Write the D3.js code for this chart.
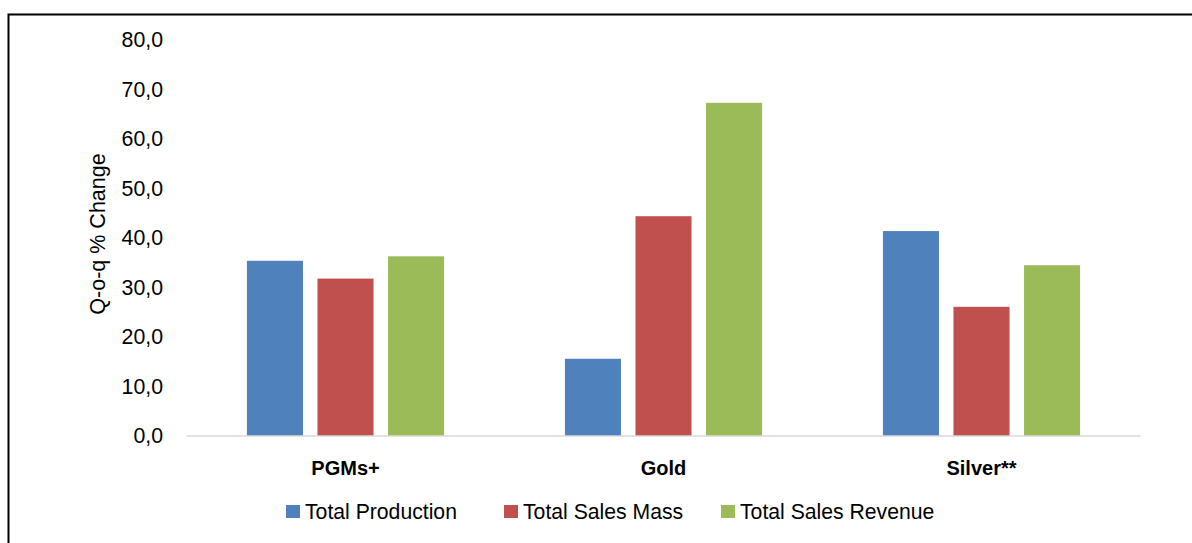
<!DOCTYPE html>
<html><head><meta charset="utf-8">
<script src="https://cdn.jsdelivr.net/npm/d3@7"></script>
<style>html,body{margin:0;padding:0;background:#fff;}svg{display:block;font-family:"Liberation Sans",Arial,sans-serif;}</style>
</head><body>
<svg id="c" width="1192" height="543"></svg>
<script>
const categories = ["PGMs+", "Gold", "Silver**"];
const seriesNames = ["Total Production", "Total Sales Mass", "Total Sales Revenue"];
const seriesColors = ["#4f81bd", "#c0504d", "#9bbb59"];
const totalProduction = [35.4, 15.6, 41.4];
const totalSalesMass = [31.8, 44.4, 26.1];
const totalSalesRevenue = [36.3, 67.3, 34.5];
const yTicks = [0, 10, 20, 30, 40, 50, 60, 70, 80];

(function () {
const series = [totalProduction, totalSalesMass, totalSalesRevenue];
const svg = d3.select("#c");

// outer frame
svg.append("path").attr("d", "M8.5,543 L8.5,14.5 L1192,14.5")
  .attr("fill", "none").attr("stroke", "#000").attr("stroke-width", 2);

const pLeft = 186.5, pRight = 1140.5, pTop = 40, pBottom = 436;
const y = d3.scaleLinear().domain([0, 80]).range([pBottom, pTop]);
const x0 = d3.scaleBand().domain(categories).range([pLeft, pRight]).paddingInner(0.38).paddingOuter(0.19);
const x1 = d3.scaleBand().domain(seriesNames).range([0, x0.bandwidth()]).paddingInner(0.2057).paddingOuter(0);

// bars
const g = svg.append("g");
categories.forEach((c, ci) => {
  seriesNames.forEach((s, si) => {
    const v = series[si][ci];
    g.append("rect")
      .attr("x", x0(c) + x1(s))
      .attr("y", y(v))
      .attr("width", x1.bandwidth())
      .attr("height", y(0) - y(v))
      .attr("fill", seriesColors[si]);
  });
});

// x axis line
svg.append("line").attr("x1", pLeft).attr("x2", pRight).attr("y1", y(0)).attr("y2", y(0))
  .attr("stroke", "#d9d9d9").attr("stroke-width", 1.5);

// y axis labels
const fmt = d => d3.format(".1f")(d).replace(".", ",");
const yAxis = d3.axisLeft(y).tickValues(yTicks).tickFormat(fmt).tickSize(0).tickPadding(0);
const ya = svg.append("g").attr("transform", "translate(163,0)").call(yAxis);
ya.select(".domain").remove();
ya.selectAll("text").attr("font-size", 21.3).attr("fill", "#000")
  .attr("font-family", "'Liberation Sans', Arial, sans-serif");

// category labels
const xAxis = d3.axisBottom(x0).tickSize(0).tickPadding(0);
const xa = svg.append("g").attr("transform", "translate(0,461)").call(xAxis);
xa.select(".domain").remove();
xa.selectAll("text").attr("font-size", 20).attr("font-weight", "bold").attr("fill", "#000")
  .attr("font-family", "'Liberation Sans', Arial, sans-serif").attr("dy", "0.71em");

// y title
svg.append("text").attr("transform", "translate(105,234) rotate(-90)")
  .attr("text-anchor", "middle").attr("font-size", 21.5).attr("fill", "#000")
  .text("Q-o-q % Change");

// legend
const legendX = [286, 504, 721];
seriesNames.forEach((s, i) => {
  svg.append("rect").attr("x", legendX[i]).attr("y", 505).attr("width", 14).attr("height", 13)
    .attr("fill", seriesColors[i]);
  svg.append("text").attr("x", legendX[i] + 19).attr("y", 519).attr("font-size", 21.2)
    .attr("fill", "#000").text(s);
});
})();
</script>
</body></html>
